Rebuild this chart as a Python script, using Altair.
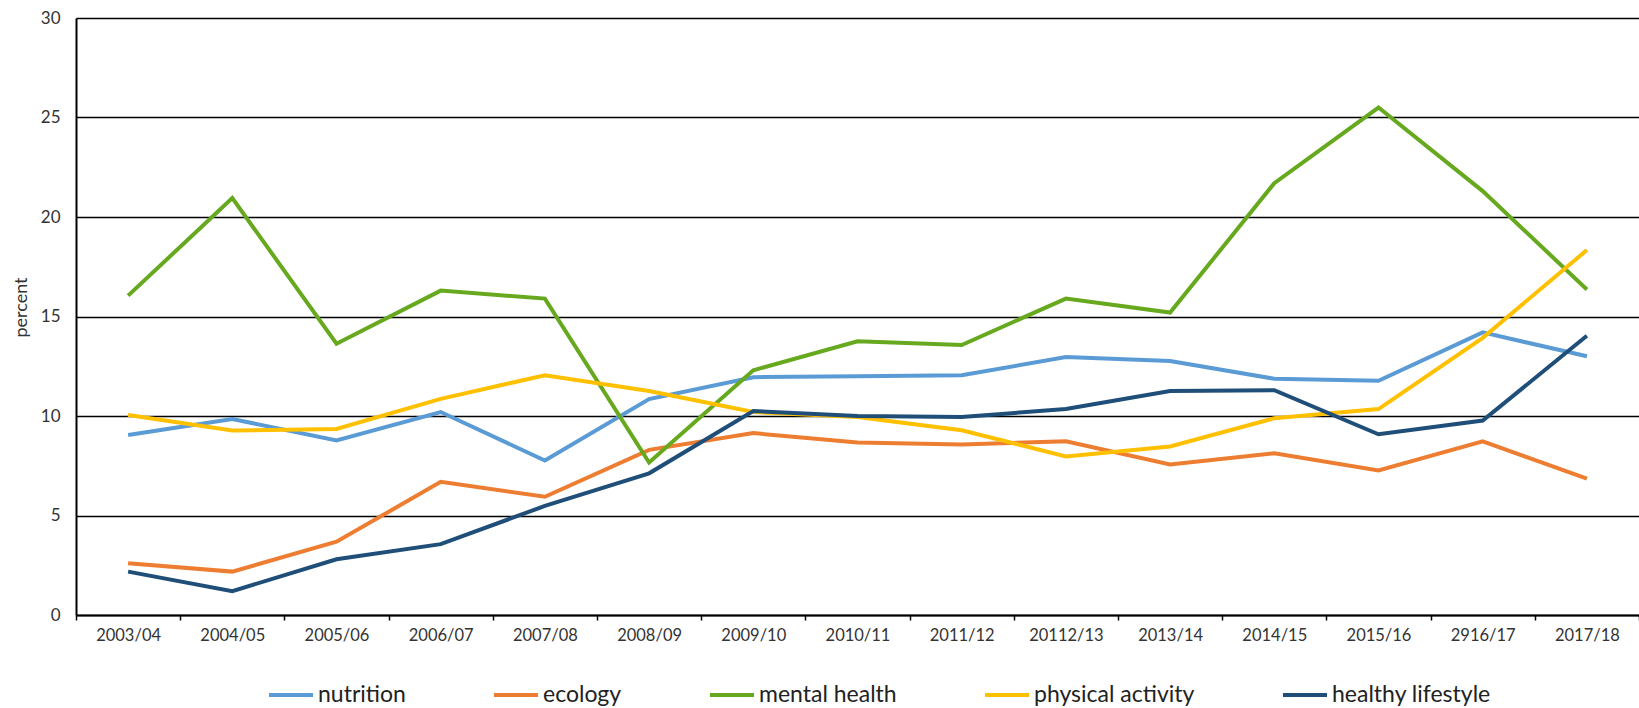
import altair as alt
import pandas as pd

years = ["2003/04", "2004/05", "2005/06", "2006/07", "2007/08", "2008/09", "2009/10",
         "2010/11", "2011/12", "20112/13", "2013/14", "2014/15", "2015/16", "2916/17", "2017/18"]

series_names = ["nutrition", "ecology", "mental health", "physical activity", "healthy lifestyle"]
series_colors = ["#5B9BD5", "#ED7D31", "#67A91E", "#FFC000", "#1F4E79"]

nutrition = [9.05, 9.85, 8.77, 10.2, 7.76, 10.85, 11.95, 12.0, 12.05, 12.96, 12.76, 11.87, 11.77, 14.2, 13.0]
ecology = [2.6, 2.18, 3.68, 6.69, 5.94, 8.3, 9.14, 8.67, 8.57, 8.73, 7.56, 8.13, 7.26, 8.73, 6.85]
mental_health = [16.05, 20.95, 13.63, 16.3, 15.9, 7.66, 12.3, 13.75, 13.57, 15.9, 15.2, 21.7, 25.5, 21.3, 16.36]
physical_activity = [10.05, 9.27, 9.35, 10.86, 12.05, 11.26, 10.2, 9.95, 9.28, 7.97, 8.47, 9.89, 10.35, 13.93, 18.34]
healthy_lifestyle = [2.18, 1.2, 2.8, 3.56, 5.48, 7.12, 10.25, 10.0, 9.95, 10.35, 11.26, 11.3, 9.08, 9.77, 14.03]

all_values = [nutrition, ecology, mental_health, physical_activity, healthy_lifestyle]

rows = []
for name, vals in zip(series_names, all_values):
    for yr, v in zip(years, vals):
        rows.append({"year": yr, "series": name, "value": v})
df = pd.DataFrame(rows)

FONT = "Lato"
TXT = "#333333"

chart = alt.Chart(df).mark_line(strokeWidth=4).encode(
    x=alt.X(
        "year:O",
        sort=years,
        bandPosition=0.5,
        scale=alt.Scale(type="band", paddingInner=0, paddingOuter=0),
        axis=alt.Axis(
            title=None, labelAngle=0, tickBand="extent", tickSize=5, tickColor="black",
            tickWidth=1.5, domainColor="black", domainWidth=2, labelPadding=7,
            labelFont=FONT, labelFontSize=16.5, labelColor=TXT, grid=False,
        ),
    ),
    y=alt.Y(
        "value:Q",
        scale=alt.Scale(domain=[0, 30], nice=False, zero=True),
        axis=alt.Axis(
            values=[0, 5, 10, 15, 20, 25, 30], title="percent", grid=True,
            gridColor="black", gridWidth=1.7, domainColor="black", domainWidth=2,
            ticks=False, tickSize=0, labelPadding=16, labelFont=FONT, labelFontSize=17,
            labelColor=TXT, titleX=-55, titleY=289, titleAngle=270, titleBaseline="middle",
            titleAlign="center", titleFont=FONT, titleFontSize=18, titleFontWeight="normal",
            titleColor=TXT,
        ),
    ),
    color=alt.Color(
        "series:N",
        scale=alt.Scale(domain=series_names, range=series_colors),
        legend=alt.Legend(
            title=None, orient="none", legendX=191, legendY=653, direction="horizontal",
            symbolType="stroke", symbolSize=1936, symbolStrokeWidth=4, labelFont=FONT,
            labelFontSize=23, labelColor="#222222", labelOffset=3, columnPadding=80,
            labelLimit=400, padding=0,
        ),
    ),
).properties(
    width=1563,
    height=597,
    autosize=alt.AutoSizeParams(type="none"),
    padding={"left": 76, "top": 18, "right": 0, "bottom": 93},
).configure_view(stroke=None).configure(background="white")

chart.save("out.html", embed_options={"renderer": "svg", "actions": False})
